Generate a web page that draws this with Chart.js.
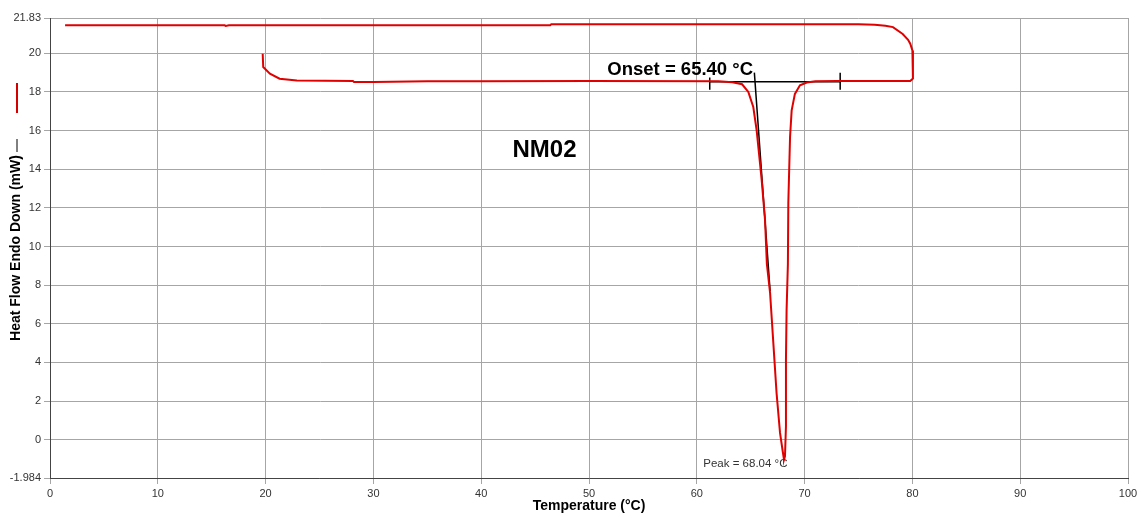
<!DOCTYPE html>
<html>
<head>
<meta charset="utf-8">
<script src="https://cdn.jsdelivr.net/npm/chart.js@4"></script>
<style>
  html, body { margin: 0; padding: 0; background: #fff; }
  canvas { display: block; }
</style>
</head>
<body>
<canvas id="dscChart" width="1137" height="515"></canvas>
<script>
// DSC trace (temperature in °C, heat flow in mW), in the order it was recorded
const curveTemp = [
  1.4, 16.2, 16.3, 16.6, 46.4, 46.5, 75.0, 76.5, 77.5, 78.2, 79.1, 79.6, 79.8, 80.0,
  80.05, 79.8, 73.0, 71.0, 70.2, 69.57, 69.1, 68.8, 68.65, 68.49, 68.45, 68.33, 68.27,
  68.27, 68.18, 68.09, 67.97, 67.72, 67.4, 67.1, 66.8, 66.5, 66.33, 66.02, 65.77, 65.55,
  65.24, 64.78, 64.2, 63.3, 62.0, 50.0, 40.0, 35.0, 30.0, 28.2, 28.1, 22.9, 21.3, 20.4,
  19.78, 19.73
];
const curveHeat = [
  21.45, 21.45, 21.42, 21.45, 21.45, 21.5, 21.5, 21.48, 21.43, 21.36, 21.0, 20.7, 20.5, 20.15,
  18.7, 18.57, 18.57, 18.55, 18.49, 18.35, 17.9, 17.05, 15.67, 12.25, 9.1, 6.72, 4.13,
  0.69, -0.86, -1.03, -0.6, 0.35, 2.41, 5.0, 7.58, 9.1, 11.37, 13.44, 14.82, 16.02,
  17.22, 18.0, 18.4, 18.5, 18.55, 18.57, 18.55, 18.55, 18.52, 18.52, 18.57, 18.6, 18.69, 18.95,
  19.29, 19.98
];

// onset construction: baseline, end ticks and tangent (null breaks the line)
const onsetTemp = [61.2, 73.3, null, 61.2, 61.2, null, 73.3, 73.3, null, 65.34, 66.8];
const onsetHeat = [18.53, 18.53, null, 18.75, 18.12, null, 19.0, 18.12, null, 19.0, 7.7];

const xTicks = [0, 10, 20, 30, 40, 50, 60, 70, 80, 90, 100];
const yTicks = [-1.984, 0, 2, 4, 6, 8, 10, 12, 14, 16, 18, 20, 21.83];

const sampleName = "NM02";
const onsetLabel = "Onset = 65.40 °C";
const peakLabel = "Peak = 68.04 °C";

Chart.defaults.font.family = "'Liberation Sans', Arial, sans-serif";
Chart.defaults.color = "#333";

const curveData = curveTemp.map((t, i) => ({ x: t, y: curveHeat[i] }));
const onsetData = onsetTemp.map((t, i) => ({ x: t, y: onsetHeat[i] }));

// text notes placed in data coordinates, plus the little series marks beside the y title
const notesPlugin = {
  id: "notes",
  afterDatasetsDraw(chart) {
    const { ctx, scales: { x, y } } = chart;
    ctx.save();
    ctx.fillStyle = "#000";
    ctx.textBaseline = "middle";
    ctx.textAlign = "center";
    ctx.font = "bold 24px 'Liberation Sans', Arial, sans-serif";
    ctx.fillText(sampleName, x.getPixelForValue(45.87), y.getPixelForValue(15.0));

    ctx.textAlign = "left";
    ctx.font = "bold 18.5px 'Liberation Sans', Arial, sans-serif";
    ctx.fillText(onsetLabel, x.getPixelForValue(51.7), y.getPixelForValue(19.12));

    ctx.fillStyle = "#333";
    ctx.font = "11.5px 'Liberation Sans', Arial, sans-serif";
    ctx.fillText(peakLabel, x.getPixelForValue(60.6), y.getPixelForValue(-1.24));

    // series marks next to the rotated y title
    ctx.lineWidth = 2;
    ctx.strokeStyle = "#d40000";
    ctx.beginPath();
    ctx.moveTo(17, 83);
    ctx.lineTo(17, 113);
    ctx.stroke();
    ctx.lineWidth = 1;
    ctx.strokeStyle = "#000";
    ctx.beginPath();
    ctx.moveTo(17, 139);
    ctx.lineTo(17, 152);
    ctx.stroke();
    ctx.restore();
  },
};

new Chart(document.getElementById("dscChart"), {
  type: "line",
  data: {
    datasets: [
      {
        label: "Heat Flow",
        data: curveData,
        borderColor: "#e00000",
        borderWidth: 2,
        pointRadius: 0,
        tension: 0,
      },
      {
        label: "Onset",
        data: onsetData,
        borderColor: "#000",
        borderWidth: 1.5,
        pointRadius: 0,
        tension: 0,
        spanGaps: false,
      },
    ],
  },
  options: {
    responsive: false,
    animation: false,
    devicePixelRatio: 1,
    layout: { padding: { top: 18, right: 0, left: 0, bottom: 0 } },
    plugins: {
      legend: { display: false },
      tooltip: { enabled: false },
    },
    scales: {
      x: {
        type: "linear",
        min: 0,
        max: 100,
        afterBuildTicks: (scale) => {
          scale.ticks = xTicks.map((v) => ({ value: v }));
        },
        afterFit: (scale) => {
          scale.height = 37;
          scale.paddingRight = 9;
          scale.paddingLeft = 0;
        },
        ticks: {
          font: { size: 11 },
          color: "#333",
          padding: 3,
          maxRotation: 0,
          autoSkip: false,
        },
        grid: { color: "#a6a6a6", tickLength: 6 },
        border: { color: "#444" },
        title: {
          display: true,
          text: "Temperature (°C)",
          font: { size: 14, weight: "bold" },
          color: "#000",
          padding: { top: 0, bottom: 0 },
        },
      },
      y: {
        type: "linear",
        min: yTicks[0],
        max: yTicks[yTicks.length - 1],
        afterBuildTicks: (scale) => {
          scale.ticks = yTicks.map((v) => ({ value: v }));
        },
        afterFit: (scale) => {
          scale.width = 50;
        },
        ticks: {
          font: { size: 11 },
          color: "#333",
          padding: 3,
          autoSkip: false,
          callback: (v) => String(v),
        },
        grid: { color: "#a6a6a6", tickLength: 6 },
        border: { color: "#444" },
        title: {
          display: true,
          text: "Heat Flow Endo Down (mW)",
          font: { size: 14, weight: "bold" },
          color: "#000",
          padding: { top: 8, bottom: 0 },
        },
      },
    },
  },
  plugins: [notesPlugin],
});
</script>
</body>
</html>
